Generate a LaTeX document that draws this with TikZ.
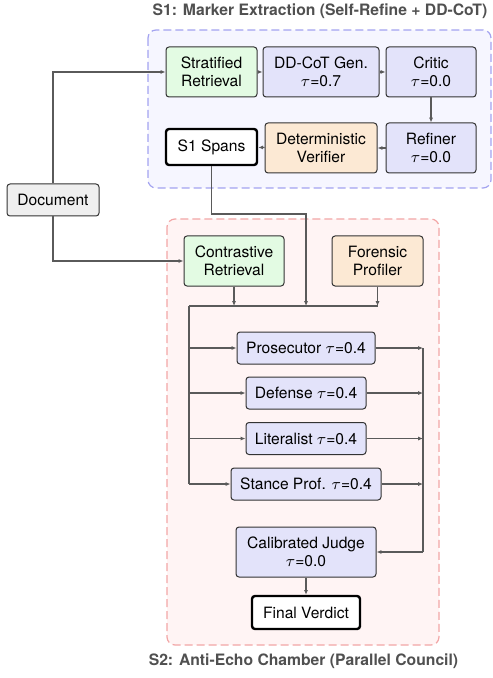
\documentclass[tikz,border=0pt]{standalone}
\usepackage{fontspec}
\setmainfont{TeX Gyre Heros}
\usepackage{tikz}
\usetikzlibrary{arrows.meta,calc,positioning}

\definecolor{linegray}{HTML}{5A5A5A}
\definecolor{boxedge}{HTML}{333333}
\definecolor{retrfill}{HTML}{E3FBE3}
\definecolor{agentfill}{HTML}{E3E3FA}
\definecolor{toolfill}{HTML}{FCE9D4}
\definecolor{docfill}{HTML}{EFEFEF}
\definecolor{sonefill}{HTML}{F6F6FF}
\definecolor{sonedraw}{HTML}{A3A3F0}
\definecolor{stwofill}{HTML}{FFF4F4}
\definecolor{stwodraw}{HTML}{F2A6A6}
\definecolor{titlegray}{HTML}{505050}

\begin{document}
\begin{tikzpicture}[x=0.5pt,y=-0.5pt,
  font=\fontsize{7.8}{9.2}\selectfont,
  box/.style={draw=boxedge,line width=0.5pt,rounded corners=1.5pt,align=center,inner sep=0pt},
  retr/.style={box,fill=retrfill},
  agent/.style={box,fill=agentfill},
  tool/.style={box,fill=toolfill},
  result/.style={box,fill=white,line width=1.2pt,draw=black},
  flow/.style={draw=linegray,line width=0.6pt,-{Latex[length=2.4pt,width=2pt]}},
  wire/.style={draw=linegray,line width=0.6pt},
  stage/.style={line width=0.6pt,rounded corners=4pt,dash pattern=on 4pt off 2pt},
  stagetitle/.style={font=\fontsize{7.85}{9.4}\selectfont\bfseries,text=titlegray,inner sep=0pt}]
  \useasboundingbox (0,0) rectangle (492,678);

  %Shape: stage frames
  \draw [stage,draw=sonedraw,fill=sonefill] (148,30) rectangle (491,188);
  \draw [stage,draw=stwodraw,fill=stwofill] (167,219) rectangle (439,645);

  % Text Node
  \node [stagetitle] (s1title) at (320,11) {S1: Marker Extraction (Self-Refine + DD-CoT)};
  \node [stagetitle] (s2title) at (303.5,661) {S2: Anti-Echo Chamber (Parallel Council)};

  %S1 nodes
  \node [box,fill=docfill,minimum width=46pt,minimum height=16pt] (doc) at (53,200) {Document};
  \node [retr,minimum width=45.5pt,minimum height=25pt] (strat) at (211.5,72) {Stratified\\Retrieval};
  \node [agent,minimum width=58pt,minimum height=25pt] (gen) at (321,72) {DD-CoT Gen.\\$\tau$=0.7};
  \node [agent,minimum width=45pt,minimum height=25pt] (critic) at (431,72) {Critic\\$\tau$=0.0};
  \node [agent,minimum width=45pt,minimum height=25pt] (refiner) at (431,148) {Refiner\\$\tau$=0.0};
  \node [tool,minimum width=56pt,minimum height=25pt] (verif) at (321,148) {Deterministic\\Verifier};
  \node [result,minimum width=45.5pt,minimum height=18pt] (spans) at (211.5,147) {S1 Spans};

  %S2 nodes
  \node [retr,minimum width=50pt,minimum height=25pt] (contr) at (234,261) {Contrastive\\Retrieval};
  \node [tool,minimum width=45.5pt,minimum height=25pt] (foren) at (377.5,261) {Forensic\\Profiler};
  \node [agent,minimum width=69pt,minimum height=16pt] (pros) at (306,348) {Prosecutor $\tau$=0.4};
  \node [agent,minimum width=60pt,minimum height=16pt] (def) at (306,393) {Defense $\tau$=0.4};
  \node [agent,minimum width=60pt,minimum height=16pt] (lit) at (306,438.5) {Literalist $\tau$=0.4};
  \node [agent,minimum width=75pt,minimum height=16pt] (stance) at (306,484) {Stance Prof. $\tau$=0.4};
  \node [agent,minimum width=70pt,minimum height=25pt] (judge) at (306,552) {Calibrated Judge\\$\tau$=0.0};
  \node [result,minimum width=54pt,minimum height=16.5pt] (final) at (306,612.5) {Final Verdict};

  \coordinate (mergeL) at (189,306);
  \coordinate (mergeM) at (306,306);
  \coordinate (bend) at (306,214);
  \coordinate (collect) at (423,552);

  %S1 flow
  \draw [flow] (doc.north) |- (strat.west);
  \draw [flow] (strat) -- (gen);
  \draw [flow] (gen) -- (critic);
  \draw [flow] (critic) -- (refiner);
  \draw [flow] (refiner) -- (verif);
  \draw [flow] (verif) -- (spans);

  %S2 flow
  \draw [flow] (doc.south) |- (contr.west);
  \draw [flow] (spans.south) |- (bend) -- (mergeM);
  \draw [flow] (contr.south) -- (contr.south |- mergeL);
  \draw [flow] (foren.south) -- (foren.south |- mergeL);
  \draw [wire] (mergeL) -- (foren.south |- mergeL);
  \draw [wire] (mergeL) -- (mergeL |- stance);
  \foreach \n in {pros,def,lit,stance}{
    \draw [flow] (mergeL |- \n) -- (\n.west);
    \draw [flow] (\n.east) -- (collect |- \n);
  }
  \draw [wire] (collect |- pros) -- (collect);
  \draw [flow] (collect) -- (judge.east);
  \draw [flow] (judge) -- (final);
\end{tikzpicture}
\end{document}
